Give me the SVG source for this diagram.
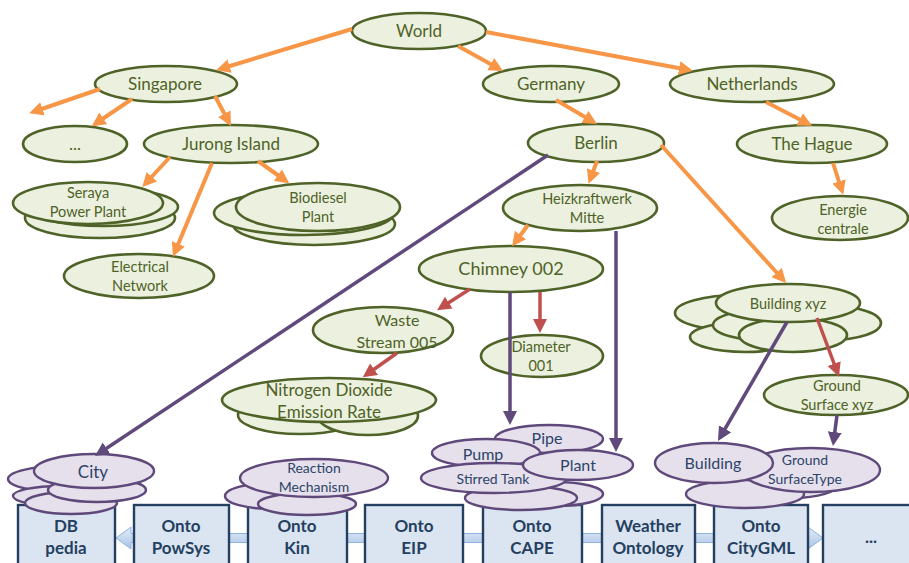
<svg xmlns="http://www.w3.org/2000/svg" width="909" height="563" viewBox="0 0 909 563">
<defs>
<style>
.g ellipse{fill:#ebf1de;stroke:#4f6228;stroke-width:2.6}
.g text{fill:#4f6228;font-family:Lato,"Open Sans",sans-serif;text-anchor:middle}
.p ellipse{fill:#e6e0ec;stroke:#5f497a;stroke-width:2.4}
.p text{fill:#2c4468;font-family:Lato,"Open Sans",sans-serif;text-anchor:middle}
.b rect{fill:#dbe5f1;stroke:#243f60;stroke-width:2.4}
.b text{fill:#243f60;font-family:Lato,"Open Sans",sans-serif;font-weight:bold;font-size:17px;text-anchor:middle}
.co line{fill:none;stroke-linecap:butt}
.o{stroke:#f79646;stroke-width:4;marker-end:url(#ao)}
.r{stroke:#c0504d;stroke-width:3.5;marker-end:url(#ar)}
.v{stroke:#604a7b;stroke-width:3.5;marker-end:url(#av)}
</style>
<marker id="ao" markerUnits="userSpaceOnUse" markerWidth="15" markerHeight="15" refX="10" refY="7" orient="auto"><path d="M0,0 L14,7 L0,14 z" fill="#f79646"/></marker>
<marker id="ar" markerUnits="userSpaceOnUse" markerWidth="15" markerHeight="15" refX="10" refY="7" orient="auto"><path d="M0,0 L14,7 L0,14 z" fill="#c0504d"/></marker>
<marker id="av" markerUnits="userSpaceOnUse" markerWidth="15" markerHeight="15" refX="10" refY="7" orient="auto"><path d="M0,0 L14,7 L0,14 z" fill="#604a7b"/></marker>
<linearGradient id="bg" x1="0" y1="0" x2="0" y2="1"><stop offset="0" stop-color="#e4ecf7"/><stop offset="1" stop-color="#a9c4e6"/></linearGradient>
</defs>
<rect width="909" height="563" fill="#fff"/>

<g id="world" class="g"><ellipse cx="419" cy="31" rx="67" ry="18"/><text x="419" y="37" font-size="17">World</text></g>
<g id="singapore" class="g"><ellipse cx="166" cy="84" rx="71" ry="18"/><text x="165" y="90" font-size="17">Singapore</text></g>
<g id="germany" class="g"><ellipse cx="551" cy="84" rx="68" ry="18"/><text x="551" y="90" font-size="17">Germany</text></g>
<g id="netherlands" class="g"><ellipse cx="752" cy="84" rx="82" ry="18"/><text x="752" y="90" font-size="17">Netherlands</text></g>
<g id="dots1" class="g"><ellipse cx="75" cy="144" rx="52" ry="18"/><text x="75" y="150" font-size="17">...</text></g>
<g id="jurong" class="g"><ellipse cx="231" cy="144" rx="87" ry="19"/><text x="231" y="150" font-size="17">Jurong Island</text></g>
<g id="berlin" class="g"><ellipse cx="596" cy="143" rx="68" ry="19"/><text x="596" y="149" font-size="17">Berlin</text></g>
<g id="thehague" class="g"><ellipse cx="812" cy="144" rx="75" ry="19"/><text x="812" y="150" font-size="17">The Hague</text></g>
<g id="seraya" class="g"><ellipse cx="100" cy="218" rx="75" ry="20"/><ellipse cx="103" cy="207" rx="75" ry="19"/><ellipse cx="88" cy="203" rx="75" ry="21"/><text x="88" y="198" font-size="14.5">Seraya</text><text x="88" y="217" font-size="14.5">Power Plant</text></g>
<g id="biodiesel" class="g"><ellipse cx="314" cy="224" rx="81" ry="21"/><ellipse cx="304" cy="213" rx="90" ry="22"/><ellipse cx="318" cy="207" rx="82" ry="24"/><text x="318" y="203" font-size="14.5">Biodiesel</text><text x="318" y="222" font-size="14.5">Plant</text></g>
<g id="electrical" class="g"><ellipse cx="139" cy="276" rx="75" ry="22"/><text x="140" y="272" font-size="14.5">Electrical</text><text x="140" y="291" font-size="14.5">Network</text></g>
<g id="heizkraftwerk" class="g"><ellipse cx="580" cy="208" rx="77" ry="23"/><text x="587" y="204" font-size="14.5">Heizkraftwerk</text><text x="587" y="223" font-size="14.5">Mitte</text></g>
<g id="energie" class="g"><ellipse cx="840" cy="218" rx="68" ry="22"/><text x="843" y="215" font-size="14.5">Energie</text><text x="843" y="234" font-size="14.5">centrale</text></g>
<g id="chimney" class="g"><ellipse cx="511" cy="269" rx="92" ry="23"/><text x="511" y="275" font-size="18">Chimney 002</text></g>
<g id="waste" class="g"><ellipse cx="383" cy="330" rx="70" ry="23"/><text x="397" y="326" font-size="16">Waste</text><text x="397" y="348" font-size="16">Stream 005</text></g>
<g id="diameter" class="g"><ellipse cx="542" cy="356" rx="61" ry="21"/><text x="541" y="352" font-size="14.5">Diameter</text><text x="541" y="371" font-size="14.5">001</text></g>
<g id="no2" class="g"><ellipse cx="300" cy="415" rx="62" ry="19"/><ellipse cx="368" cy="416" rx="50" ry="19"/><ellipse cx="329" cy="400" rx="107" ry="22"/><text x="329" y="396" font-size="17">Nitrogen Dioxide</text><text x="329" y="418" font-size="17">Emission Rate</text></g>
<g id="buildingxyz" class="g"><ellipse cx="740" cy="313" rx="65" ry="18"/><ellipse cx="830" cy="323" rx="51" ry="17"/><ellipse cx="745" cy="337" rx="55" ry="15"/><ellipse cx="770" cy="325" rx="57" ry="16"/><ellipse cx="793" cy="335" rx="54" ry="17"/><ellipse cx="788" cy="303" rx="72" ry="19"/><text x="788" y="309" font-size="14.5">Building xyz</text></g>
<g id="groundxyz" class="g"><ellipse cx="836" cy="395" rx="72" ry="20"/><text x="837" y="391" font-size="14.5">Ground</text><text x="837" y="410" font-size="14.5">Surface xyz</text></g>

<path id="ontology-arrow" d="M116,538 L131,527 L131,533.5 L808,533.5 L808,527 L823,538 L808,549 L808,542.5 L131,542.5 L131,549 Z" fill="url(#bg)" stroke="#8db3e2" stroke-width="1"/>

<g id="dbpedia" class="b"><rect x="18" y="505" width="97" height="70"/><text x="66" y="532">DB</text><text x="66" y="554">pedia</text></g>
<g id="ontopowsys" class="b"><rect x="134" y="505" width="95" height="70"/><text x="181" y="532">Onto</text><text x="181" y="554">PowSys</text></g>
<g id="ontokin" class="b"><rect x="248" y="505" width="99" height="70"/><text x="297" y="532">Onto</text><text x="297" y="554">Kin</text></g>
<g id="ontoeip" class="b"><rect x="365" y="505" width="98" height="70"/><text x="414" y="532">Onto</text><text x="414" y="554">EIP</text></g>
<g id="ontocape" class="b"><rect x="483" y="505" width="99" height="70"/><text x="532" y="532">Onto</text><text x="532" y="554">CAPE</text></g>
<g id="weather" class="b"><rect x="602" y="505" width="93" height="70"/><text x="648" y="532">Weather</text><text x="648" y="554">Ontology</text></g>
<g id="ontocitygml" class="b"><rect x="714" y="505" width="94" height="70"/><text x="761" y="532">Onto</text><text x="761" y="554">CityGML</text></g>
<g id="more" class="b"><rect x="823" y="505" width="100" height="70"/><text x="871" y="543">...</text></g>

<g id="city" class="p"><ellipse cx="62" cy="479" rx="54" ry="13"/><ellipse cx="60" cy="496" rx="47" ry="10"/><ellipse cx="71" cy="503" rx="46" ry="11"/><ellipse cx="97" cy="490" rx="49" ry="12"/><ellipse cx="94" cy="471" rx="60" ry="17"/><text x="93" y="478" font-size="17">City</text></g>
<g id="reaction" class="p"><ellipse cx="272" cy="496" rx="47" ry="13"/><ellipse cx="307" cy="504" rx="49" ry="11"/><ellipse cx="314" cy="478" rx="74" ry="19"/><text x="314" y="473" font-size="14">Reaction</text><text x="314" y="492" font-size="14">Mechanism</text></g>
<g id="capecluster" class="p"><ellipse cx="556" cy="494" rx="47" ry="12"/><ellipse cx="521" cy="498" rx="56" ry="12"/><ellipse cx="549" cy="439" rx="54" ry="14"/><ellipse cx="486" cy="453" rx="54" ry="14"/><ellipse cx="494" cy="478" rx="73" ry="15"/><ellipse cx="578" cy="465" rx="55" ry="15"/><text x="547" y="444" font-size="16">Pipe</text><text x="483" y="460" font-size="16">Pump</text><text x="578" y="471" font-size="16">Plant</text><text x="493" y="484" font-size="14">Stirred Tank</text></g>
<g id="citygmlcluster" class="p"><ellipse cx="793" cy="484" rx="45" ry="14"/><ellipse cx="745" cy="494" rx="59" ry="14"/><ellipse cx="811" cy="470" rx="69" ry="22"/><ellipse cx="714" cy="463" rx="59" ry="20"/><text x="713" y="469" font-size="16">Building</text><text x="805" y="465" font-size="14">Ground</text><text x="805" y="484" font-size="14">SurfaceType</text></g>

<g id="connectors" class="co">
<line class="o" x1="352" y1="29" x2="220" y2="69"/>
<line class="o" x1="458" y1="46" x2="499.5" y2="69"/>
<line class="o" x1="486" y1="32" x2="689" y2="70"/>
<line class="o" x1="100" y1="89" x2="33" y2="112"/>
<line class="o" x1="132" y1="99" x2="95" y2="124"/>
<line class="o" x1="215" y1="96" x2="229" y2="122.5"/>
<line class="o" x1="556" y1="100" x2="593.5" y2="122"/>
<line class="o" x1="766" y1="102" x2="808.5" y2="124"/>
<line class="o" x1="170" y1="157" x2="145" y2="184"/>
<line class="o" x1="212" y1="163" x2="174.5" y2="253"/>
<line class="o" x1="258" y1="161" x2="286" y2="181"/>
<line class="o" x1="597" y1="161" x2="590" y2="180"/>
<line class="o" x1="528" y1="225" x2="514.5" y2="243"/>
<line class="o" x1="661" y1="145" x2="783.4" y2="280"/>
<line class="o" x1="833" y1="163" x2="842" y2="191"/>
<line class="r" x1="470" y1="289" x2="440.4" y2="308"/>
<line class="r" x1="540" y1="292" x2="540" y2="329"/>
<line class="r" x1="397" y1="353" x2="366" y2="375"/>
<line class="r" x1="817" y1="318" x2="837.6" y2="373"/>
<line class="v" x1="548" y1="155" x2="98.3" y2="453.8"/>
<line class="v" x1="510" y1="292" x2="510" y2="421"/>
<line class="v" x1="616" y1="231" x2="616" y2="448"/>
<line class="v" x1="787" y1="322" x2="720" y2="437.5"/>
<line class="v" x1="837" y1="415" x2="833.5" y2="442"/>
</g>
</svg>
